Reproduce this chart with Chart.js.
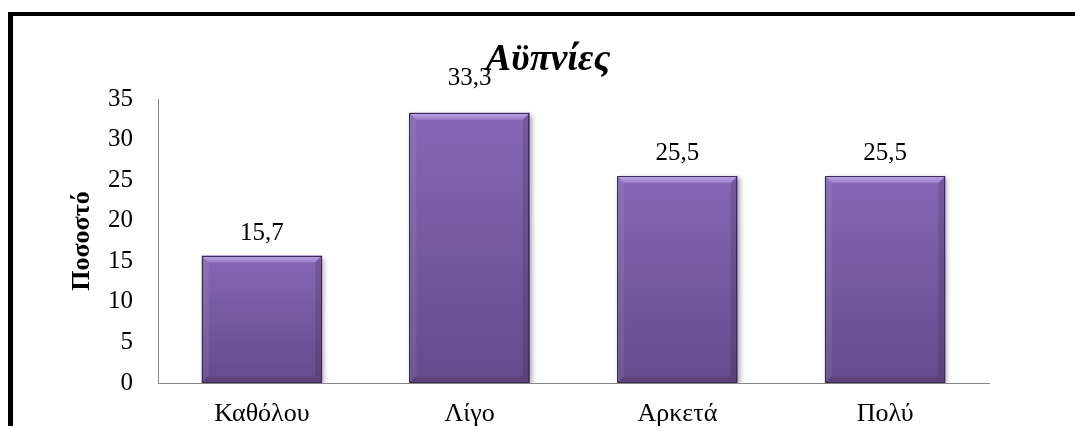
<!DOCTYPE html>
<html lang="el">
<head>
<meta charset="utf-8">
<title>Αϋπνίες</title>
<script src="https://cdn.jsdelivr.net/npm/chart.js@4/dist/chart.umd.min.js"></script>
<style>
  html, body { margin: 0; padding: 0; background: #fff; overflow: hidden; }
  #frame {
    position: absolute; left: 8px; top: 12px;
    width: 1067px; height: 414px;
    border-top: 4px solid #000; border-left: 5px solid #000;
  }
  #wrap { position: absolute; left: 0; top: 0; width: 1075px; height: 426px; }
</style>
</head>
<body>
<div id="frame"></div>
<div id="wrap"><canvas id="sleepChart" width="1075" height="426"></canvas></div>
<script>
// ----------------------
// Data
// ----------------------
const categories = ["Καθόλου", "Λίγο", "Αρκετά", "Πολύ"];
const percentages = [15.7, 33.3, 25.5, 25.5];
const yTicks = [0, 5, 10, 15, 20, 25, 30, 35];

const chartTitle = "Αϋπνίες";
const yTitle = "Ποσοστό";

const SERIF = "'Liberation Serif', 'Times New Roman', serif";

// ----------------------
// Bar look: gradient face, bevelled edges, soft shadow, value labels
// ----------------------
function barFace(ctx) {
  const chart = ctx.chart;
  const area = chart.chartArea;
  if (!area || ctx.type !== "data") return "#7a5ca6";
  const top = chart.scales.y.getPixelForValue(ctx.raw);
  const g = chart.ctx.createLinearGradient(0, top, 0, area.bottom);
  g.addColorStop(0, "#8666b5");
  g.addColorStop(1, "#654b8c");
  return g;
}

const bevelBars = {
  id: "bevelBars",
  beforeDatasetsDraw(chart) {
    const c = chart.ctx;
    c.save();
    c.shadowColor = "rgba(0,0,0,0.35)";
    c.shadowBlur = 5;
    c.shadowOffsetX = 2;
    c.shadowOffsetY = 2;
  },
  afterDatasetsDraw(chart, args, opts) {
    const c = chart.ctx;
    c.restore();
    const meta = chart.getDatasetMeta(0);
    const b = opts.bevel;
    meta.data.forEach((bar, i) => {
      const { x, y, base, width } = bar.getProps(["x", "y", "base", "width"], true);
      const l = x - width / 2, r = x + width / 2, t = y, bot = base;

      const quad = (pts, fill) => {
        c.beginPath();
        c.moveTo(pts[0][0], pts[0][1]);
        for (let k = 1; k < pts.length; k++) c.lineTo(pts[k][0], pts[k][1]);
        c.closePath();
        c.fillStyle = fill;
        c.fill();
      };

      c.save();
      const tg = c.createLinearGradient(0, t, 0, t + b);
      tg.addColorStop(0, "#c0a8e6");
      tg.addColorStop(1, "#9a7cc9");
      quad([[l, t], [r, t], [r - b, t + b], [l + b, t + b]], tg);
      quad([[l, t], [l + b, t + b], [l + b, bot - b], [l, bot]], "rgba(255,255,255,0.07)");
      quad([[r, t], [r, bot], [r - b, bot - b], [r - b, t + b]], "rgba(0,0,0,0.12)");
      quad([[l, bot], [l + b, bot - b], [r - b, bot - b], [r, bot]], "rgba(0,0,0,0.1)");
      c.strokeStyle = "#3d2a5a";
      c.lineWidth = 1;
      c.strokeRect(Math.round(l) + 0.5, Math.round(t) + 0.5, Math.round(width) - 1, Math.round(bot - t) - 1);
      c.restore();

      // value label above the bar
      c.save();
      c.font = opts.font;
      c.fillStyle = "#000";
      c.textAlign = "center";
      c.textBaseline = "alphabetic";
      const text = String(percentages[i]).replace(".", ",");
      c.fillText(text, x, t - opts.lift[i]);
      c.restore();
    });
  }
};

// Heading drawn at a fixed spot over the plot
const heading = {
  id: "heading",
  afterDraw(chart, args, opts) {
    const c = chart.ctx;
    c.save();
    c.font = opts.font;
    c.fillStyle = "#000";
    c.textAlign = "center";
    c.textBaseline = "alphabetic";
    c.fillText(opts.text, opts.x, opts.y);
    c.restore();
  }
};

// ----------------------
// Chart
// ----------------------
new Chart(document.getElementById("sleepChart"), {
  type: "bar",
  data: {
    labels: categories,
    datasets: [{
      data: percentages,
      backgroundColor: barFace,
      borderWidth: 0,
      categoryPercentage: 1,
      barPercentage: 0.58
    }]
  },
  plugins: [bevelBars, heading],
  options: {
    responsive: false,
    animation: false,
    events: [],
    layout: { padding: { top: 99, left: 0, right: 86, bottom: 0 } },
    plugins: {
      legend: { display: false },
      tooltip: { enabled: false },
      title: { display: false },
      heading: { text: chartTitle, x: 548, y: 70, font: "italic bold 38px " + SERIF },
      bevelBars: { bevel: 7, lift: [16, 28, 16, 16], font: "25px " + SERIF }
    },
    scales: {
      x: {
        grid: { display: false, drawTicks: false },
        border: { display: true, color: "#868686", width: 1 },
        ticks: { color: "#000", padding: 16, font: { family: SERIF, size: 26 } },
        afterFit(scale) { scale.height = 43; }
      },
      y: {
        min: 0,
        max: 35,
        grid: { display: false, drawTicks: false },
        border: { display: true, color: "#868686", width: 1 },
        afterBuildTicks(scale) { scale.ticks = yTicks.map(v => ({ value: v })); },
        ticks: { color: "#000", padding: 25, font: { family: SERIF, size: 25 } },
        title: {
          display: true,
          text: yTitle,
          color: "#000",
          padding: { top: 67, bottom: 0 },
          font: { family: SERIF, size: 26, weight: "bold" }
        },
        afterFit(scale) { scale.width = 158; }
      }
    }
  }
});
</script>
</body>
</html>
